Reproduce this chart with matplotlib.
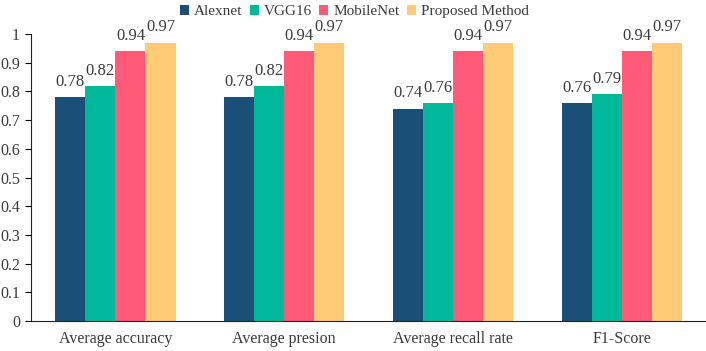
import matplotlib
matplotlib.use("Agg")
import matplotlib.pyplot as plt
import numpy as np

categories = ["Average accuracy", "Average presion", "Average recall rate", "F1-Score"]
series_names = ["Alexnet", "VGG16", "MobileNet", "Proposed Method"]
alexnet = [0.78, 0.78, 0.74, 0.76]
vgg16 = [0.82, 0.82, 0.76, 0.79]
mobilenet = [0.94, 0.94, 0.94, 0.94]
proposed = [0.97, 0.97, 0.97, 0.97]
colors = ["#1a5078", "#00b99b", "#ff5a78", "#ffcb76"]
yticks = [0, 0.1, 0.2, 0.3, 0.4, 0.5, 0.6, 0.7, 0.8, 0.9, 1]
ytick_labels = ["0", "0.1", "0.2", "0.3", "0.4", "0.5", "0.6", "0.7", "0.8", "0.9", "1"]

plt.rcParams['font.family'] = ['Liberation Serif', 'DejaVu Serif']
txt = "#3a3a3a"

fig = plt.figure(figsize=(7.06, 3.51), dpi=100)
ax = fig.add_axes([0.044, 0.0855, 0.956, 0.8175])

x = np.arange(len(categories))
w = 0.178
data = [alexnet, vgg16, mobilenet, proposed]
for i, (name, vals, c) in enumerate(zip(series_names, data, colors)):
    pos = x + (i - 1.5) * w
    ax.bar(pos, vals, width=w, color=c, label=name)
    for p, v in zip(pos, vals):
        ax.text(p, v + 0.025, f"{v:.2f}", ha="center", va="bottom", fontsize=12, color=txt)

ax.set_xlim(-0.5, 3.5)
ax.set_ylim(0, 1)
ax.set_yticks(yticks)
ax.set_yticklabels(ytick_labels, fontsize=11.5, color=txt)
ax.set_xticks(x)
ax.set_xticklabels(categories, fontsize=11.5, color=txt)
ax.tick_params(axis="x", length=0, pad=7)
ax.tick_params(axis="y", length=4, direction="out", pad=4)
for s in ["top", "right"]:
    ax.spines[s].set_visible(False)
ax.spines["left"].set_color("#222222")
ax.spines["bottom"].set_color("#222222")

fig.legend(loc="upper center", bbox_to_anchor=(0.502, 1.025), ncol=4, frameon=False,
           fontsize=11, handlelength=0.6, handleheight=0.6, handletextpad=0.35,
           columnspacing=0.45, labelcolor=txt)

fig.savefig("out.png", dpi=100)
